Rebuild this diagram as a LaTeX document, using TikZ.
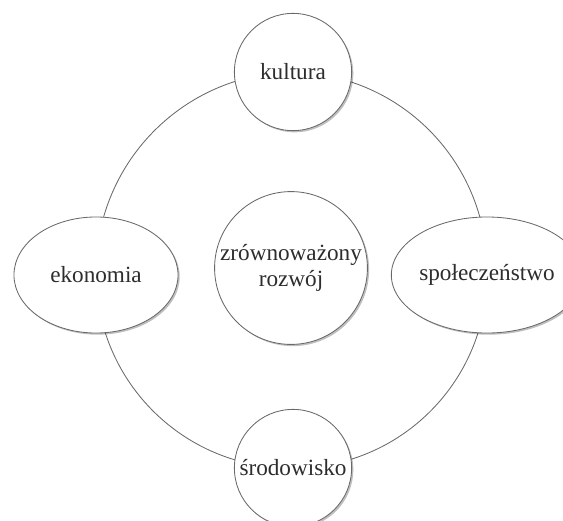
\documentclass[tikz,border=0pt]{standalone}
\usepackage{fontspec}
\setmainfont{Liberation Serif}
\usetikzlibrary{shapes.geometric,shadows,backgrounds}

\definecolor{ringgray}{RGB}{105,105,105}
\definecolor{labelgray}{RGB}{45,45,45}

\tikzset{
	topic/.style={draw=ringgray, fill=white, line width=0.6pt, inner sep=0pt,
		text=labelgray, font=\fontsize{16.5}{18}\selectfont, align=center,
		drop shadow={shadow xshift=1.2pt, shadow yshift=-1.2pt, opacity=0.25, fill=black}},
	pillar/.style={topic, circle, minimum size=2.93cm},
	wing/.style={topic, ellipse, minimum width=4.1cm, minimum height=2.9cm},
	hub/.style={topic, circle, minimum size=3.82cm},
	ring/.style={draw=ringgray, line width=0.6pt}
}

\begin{document}
\begin{tikzpicture}[x=0.025cm, y=-0.025cm]
	\useasboundingbox (0,0) rectangle (563,520);

	% nodes
	\node[pillar] (kultura) at (293,72) {kultura};
	\node[pillar] (srodowisko) at (293,468) {środowisko};
	\node[wing] (ekonomia) at (96,275) {ekonomia};
	\node[wing] (spoleczenstwo) at (487,275) {społeczeństwo};
	\node[hub] (rozwoj) at (291,268) {zrównoważony\\rozwój};

	%lines
	\begin{scope}[on background layer]
		\draw[ring] (kultura.center) to[bend right=45] (ekonomia.center);
		\draw[ring] (ekonomia.center) to[bend right=45] (srodowisko.center);
		\draw[ring] (srodowisko.center) to[bend right=45] (spoleczenstwo.center);
		\draw[ring] (spoleczenstwo.center) to[bend right=45] (kultura.center);
	\end{scope}
\end{tikzpicture}
\end{document}
